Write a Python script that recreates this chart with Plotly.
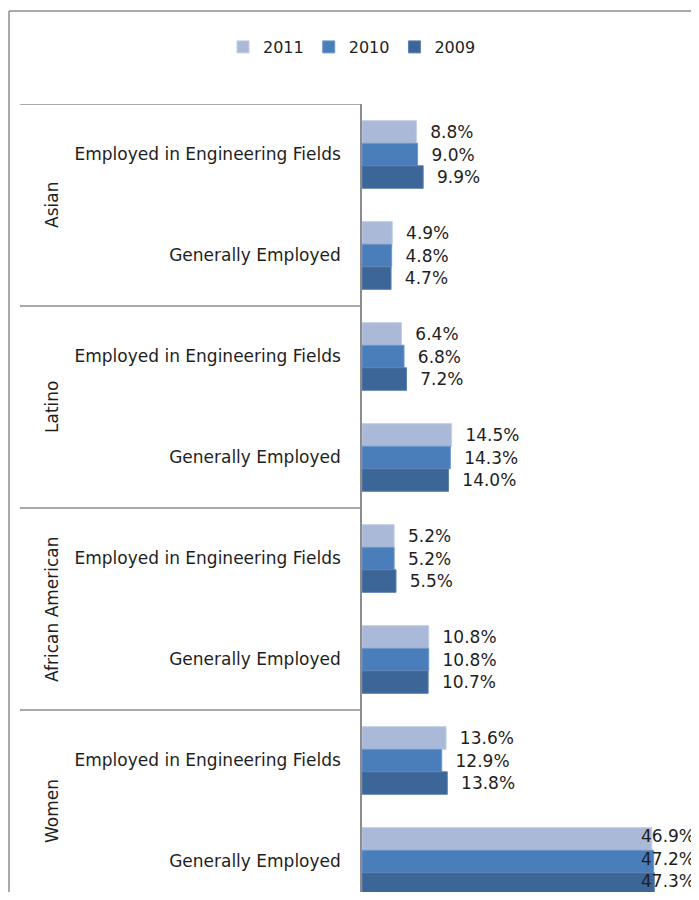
import plotly.graph_objects as go

groups = ["Asian", "Latino", "African American", "Women"]
subcats = ["Employed in Engineering Fields", "Generally Employed"]
years = ["2011", "2010", "2009"]
values_2011 = [8.8, 4.9, 6.4, 14.5, 5.2, 10.8, 13.6, 46.9]
values_2010 = [9.0, 4.8, 6.8, 14.3, 5.2, 10.8, 12.9, 47.2]
values_2009 = [9.9, 4.7, 7.2, 14.0, 5.5, 10.7, 13.8, 47.3]
colors = ["#A9B9D7", "#4A7EBB", "#3C6698"]
line_colors = ["#C3CFE5", "#6E97CB", "#5D81AE"]

OFF = 8  # page body margin
W, H = 691, 884
PLOT_L, PLOT_T = 362, 104  # page coords of plot area
ML, MR, MT, MB = PLOT_L - OFF, 0, PLOT_T - OFF, 0
PW, PH = W - ML - MR, H - MT - MB
CAT_PX = 101.0
BARGAP = 0.33
LIMIT = 40  # labels of bars longer than this are pinned to the right edge

def px_x(p):
    return (p - OFF - ML) / PW

def px_y(p):
    return 1 - (p - OFF - MT) / PH

keys = [f"{g}|{s}" for g in groups for s in subcats]
series = [values_2011, values_2010, values_2009]

FONT = "DejaVu Sans"
TXT = "#1E1E1E"
FS = 17
fig = go.Figure()
for yr, vals, c, lc in zip(years, series, colors, line_colors):
    tmpl = ["\u00a0\u00a0%{x:.1f}%" if v < LIMIT else "" for v in vals]
    fig.add_trace(go.Bar(
        name=yr, y=keys, x=vals, orientation="h",
        marker=dict(color=c, line=dict(color=lc, width=1)),
        texttemplate=tmpl, textposition="outside", constraintext="none",
        textfont=dict(family=FONT, size=FS, color=TXT),
        hoverinfo="skip",
    ))

# labels of the long bars, pushed inside the right edge of the plot
n = len(series)
w = (1 - BARGAP) / n
for ti, vals in enumerate(series):
    for ci, v in enumerate(vals):
        if v >= LIMIT:
            fig.add_annotation(xref="paper", yref="y", x=1, xanchor="right", xshift=-2,
                               y=ci + (ti - (n - 1) / 2) * w, yanchor="middle", yshift=3,
                               text=f"{v:.1f}%", showarrow=False,
                               font=dict(family=FONT, size=FS, color=TXT))

fig.update_layout(
    width=W, height=H,
    margin=dict(l=ML, r=MR, t=MT, b=MB),
    paper_bgcolor="white", plot_bgcolor="white",
    barmode="group", bargap=BARGAP, bargroupgap=0,
    font=dict(family=FONT, size=FS, color=TXT),
    showlegend=True,
    legend=dict(orientation="h", x=px_x(352), xanchor="center", y=px_y(47), yanchor="middle",
                font=dict(family=FONT, size=16, color=TXT),
                itemwidth=30, traceorder="normal", tracegroupgap=0),
)
fig.update_xaxes(range=[0, PW / 6.18], showgrid=False, zeroline=False, showticklabels=False,
                 showline=False, ticks="")
fig.update_yaxes(type="category", categoryorder="array", categoryarray=keys,
                 range=[PH / CAT_PX - 0.5, -0.5],
                 tickmode="array", tickvals=keys, ticktext=[k.split("|")[1] for k in keys],
                 showgrid=False, zeroline=False, showline=True, linecolor="#8C8C8C", linewidth=1.5,
                 ticks="", ticklabelstandoff=16,
                 tickfont=dict(family=FONT, size=FS, color=TXT))

# group separators and rotated group labels
for gi, g in enumerate(groups):
    start = gi * len(subcats) - 0.5
    fig.add_shape(type="line", xref="paper", yref="y", x0=px_x(20), x1=0, y0=start, y1=start,
                  line=dict(color="#8C8C8C", width=1.5), layer="above")
    fig.add_annotation(xref="paper", yref="y", x=px_x(40), y=start + len(subcats) / 2,
                       text=g, textangle=-90, showarrow=False,
                       font=dict(family=FONT, size=FS, color=TXT))

# outer chart frame (top and left edges; the right side is cut off in the original)
fig.add_shape(type="line", xref="paper", yref="paper", x0=px_x(9), x1=px_x(710),
              y0=px_y(11), y1=px_y(11), line=dict(color="#8C8C8C", width=1.5), layer="above")
fig.add_shape(type="line", xref="paper", yref="paper", x0=px_x(9), x1=px_x(9),
              y0=px_y(11), y1=px_y(950), line=dict(color="#8C8C8C", width=1.5), layer="above")

fig.write_html("out.html")
